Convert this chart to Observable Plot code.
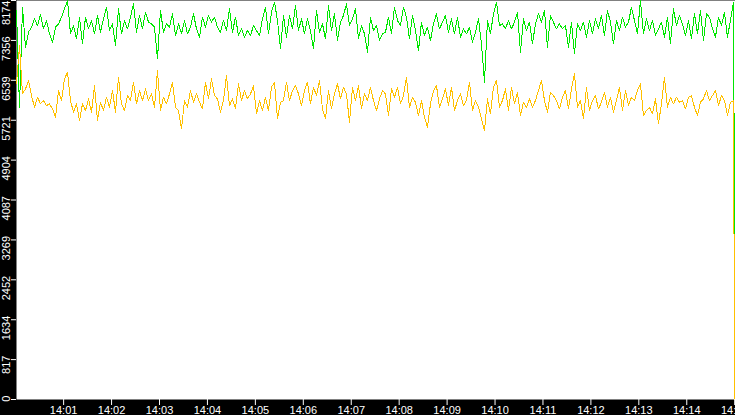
<!DOCTYPE html>
<html><head><meta charset="utf-8">
<script src="https://cdn.jsdelivr.net/npm/d3@7"></script>
<script src="https://cdn.jsdelivr.net/npm/@observablehq/plot@0.6"></script>
<style>html,body{margin:0;padding:0;background:#000;overflow:hidden;}</style>
</head><body><div id="chart"></div>
<script>
// sampling of the series
const startTime = "2024-01-01T14:00:01Z";
const endTime = "2024-01-01T14:15:00Z";
const domainEnd = "2024-01-01T14:15:01Z";
const stepSeconds = 3.755;

const greenValues = [
7969,5987,8037,7217,7525,7627,7798,7661,7887,7593,7764,7491,7320,7627,7696,7832,8003,8174,7491,7661,
7388,7832,7286,7832,7593,7764,7491,7866,7525,7798,8037,7559,7696,7251,8003,7491,7764,7593,7832,8106,
7525,7866,7593,7935,7730,7696,7627,6978,7969,7525,7696,7627,7901,7456,7696,7491,7764,7491,7627,7901,
7593,7422,7832,7627,7866,7730,7832,7627,7525,7764,7559,8003,7525,7832,7456,7593,7422,7559,7456,7661,
7559,7456,7798,8037,7491,7935,8140,7764,7183,7866,7422,7866,7593,8071,7559,7798,7491,7798,7559,7183,
7969,7525,7696,7388,8071,7559,7901,7354,7730,7866,8106,7661,7798,8003,7388,7661,7491,7115,7832,7559,
7661,7354,7491,7525,7832,7491,8037,7764,7661,8037,7832,7388,7866,7559,7149,7730,7456,7627,7354,7696,
7901,7593,7730,7866,7525,7798,7491,7832,7422,7593,7491,7627,7320,7525,7798,7286,6500,7764,7491,7901,
8140,7661,7696,7593,7764,7593,7730,7935,7115,7798,7559,7730,7286,7696,7901,7730,7969,7217,7866,7730,
7593,7696,7593,7661,7217,7730,7081,7696,7559,7730,7422,7764,7491,7798,7593,7866,7456,7969,7730,7286,
7764,7559,7832,7627,7730,8037,7764,7491,8174,7491,7798,7559,7764,7456,7593,7730,7422,7832,7286,8003,
7661,7866,7696,7456,7764,7388,7901,7491,7969,7354,7901,7832,7593,7422,7832,7661,7935,7422,7764,8140
];
const orangeValues = [
6466,7251,6261,6363,6534,6226,5987,6192,6056,6124,6021,6056,5953,5782,6329,6124,6568,6705,6124,5885,
6056,5714,6056,5919,6158,5885,6431,5714,6090,5919,6192,5987,6329,5885,6602,6056,5919,6226,6124,6500,
6056,6329,6124,6363,6124,6261,5987,6739,5919,6192,6056,6261,6500,5987,5919,5543,6124,5987,6329,6090,
6261,6090,5953,6500,6158,6568,6226,6158,5885,6124,6636,6021,6158,5953,6466,6124,6329,6158,6261,6431,
5851,6124,5919,6192,5919,6397,6500,5748,6090,6124,6500,6124,6329,6431,6261,6021,6329,6500,6056,6397,
6226,6534,5953,5748,6329,5953,6261,6466,6158,6397,6261,5680,6397,6124,6431,5953,6261,6124,6397,6124,
5919,6158,6329,6261,5816,6363,6192,6397,6056,6226,6602,5987,6192,6090,5816,6124,5782,5577,6056,6329,
6431,5987,6158,6363,6021,6397,5919,6124,6261,6021,6124,6500,5919,6124,5987,5748,5509,6158,5851,6397,
6534,5987,6124,6363,5919,6397,6056,6295,5816,6090,5987,6158,5987,6124,6329,6534,6124,5885,6295,6226,
6124,5953,6192,6329,5953,6363,6671,5987,6124,5748,6397,5919,6124,6226,5953,6090,6295,5987,6192,5885,
6124,6397,5919,6329,6021,6192,6124,6329,6466,5816,5919,5987,5851,6158,5645,6056,6602,5987,6192,6056,
6192,6090,6124,5953,6192,6226,5987,5816,6090,6158,6329,6124,6226,6329,6021,6226,6124,5816,6090,6124
];
const finalGreen = 2987;
const finalOrange = 0;
const yTicks = [0, 817, 1634, 2452, 3269, 4087, 4904, 5721, 6539, 7356, 8174];
const xTickLabels = ["14:01","14:02","14:03","14:04","14:05","14:06","14:07","14:08","14:09","14:10","14:11","14:12","14:13","14:14","14:15"];

const t0 = new Date(startTime);
function rows(values, last) {
  const r = values.map((v, i) => ({t: new Date(+t0 + i * stepSeconds * 1000), v}));
  r.push({t: new Date(endTime), v: last});
  return r;
}
const greenRows = rows(greenValues, finalGreen);
const orangeRows = rows(orangeValues, finalOrange);
const xTicks = xTickLabels.map(s => new Date("2024-01-01T" + s + ":00Z"));

const plot = Plot.plot({
  width: 735, height: 415,
  marginLeft: 16, marginRight: 0, marginTop: 0, marginBottom: 16,
  style: {background: "#000", color: "#fff", fontFamily: "'Liberation Sans', Arial, sans-serif", fontSize: "11px"},
  x: {type: "utc", domain: [t0, new Date(domainEnd)]},
  y: {domain: [0, 8174]},
  marks: [
    Plot.frame({fill: "#fff", stroke: null}),
    Plot.lineY(greenRows, {x: "t", y: "v", stroke: "#00e600", strokeWidth: 1, shapeRendering: "crispEdges"}),
    Plot.lineY(orangeRows, {x: "t", y: "v", stroke: "#ffc000", strokeWidth: 1, shapeRendering: "crispEdges"}),
    Plot.axisX({ticks: xTicks, tickFormat: d3.utcFormat("%H:%M"), tickSize: 6, tickPadding: 1, stroke: "#fff", fill: "#fff", label: null}),
    Plot.axisY({ticks: yTicks, tickSize: 5, tickFormat: () => "", stroke: "#fff", label: null}),
    Plot.text(yTicks.slice(0, -1), {y: d => d, text: d => String(d), frameAnchor: "left", dx: -10, dy: -4, rotate: -90, textAnchor: "end", lineAnchor: "middle", fill: "#fff"}),
    Plot.text(yTicks.slice(-1), {y: d => d, text: d => String(d), frameAnchor: "left", dx: -10, dy: 0, rotate: -90, textAnchor: "end", lineAnchor: "middle", fill: "#fff"})
  ]
});
document.getElementById("chart").appendChild(plot);
</script>
</body></html>
